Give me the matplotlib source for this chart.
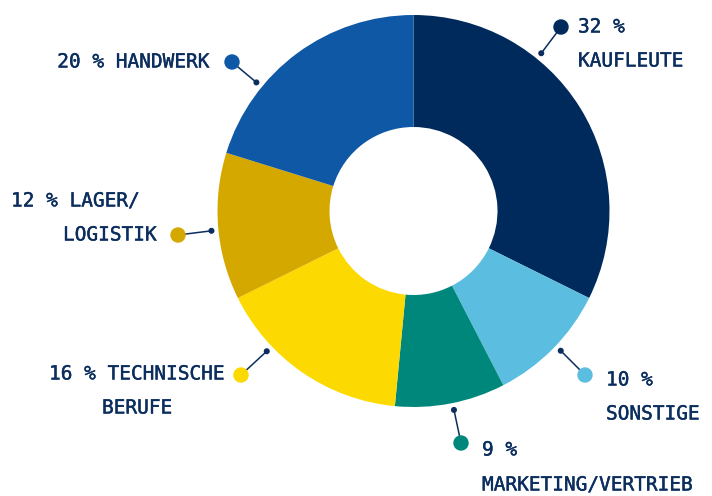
#!/usr/bin/env python3

import numpy as np
import matplotlib.pyplot as plt
import matplotlib.patheffects as pe
from matplotlib.patches import Circle

# data
labels = ["KAUFLEUTE", "SONSTIGE", "MARKETING/VERTRIEB",
          "TECHNISCHE BERUFE", "LAGER/LOGISTIK", "HANDWERK"]
values = [32, 10, 9, 16, 12, 20]
colors = ["#002a5c", "#5bbee1", "#00877b", "#fcd900", "#d5a800", "#0e58a5"]

TEXT = "#0b2e5e"
W, H = 712, 496
CX, CY, R = 413.5, H - 211, 196
HOLE = 84

# label layout (pixel coords, y from top): anchor angle (deg clockwise from top),
# big dot position, text lines [(text, x, y, ha)]
layout = [
    (39, (561, 27), [("32 %", 578, 27, "left"), ("KAUFLEUTE", 578, 61, "left")]),
    (133.5, (585, 375), [("10 %", 606, 380, "left"), ("SONSTIGE", 606, 414, "left")]),
    (168.5, (461, 443), [("9 %", 482, 450, "left"), ("MARKETING/VERTRIEB", 482, 485, "left")]),
    (226.3, (241, 375), [("16 % TECHNISCHE", 49, 374, "left"), ("BERUFE", 102, 408, "left")]),
    (264.4, (178, 235), [("12 % LAGER/", 11, 201, "left"), ("LOGISTIK", 63, 235, "left")]),
    (309.3, (232, 62), [("20 % HANDWERK", 210, 62, "right")]),
]


def main():
    fig = plt.figure(figsize=(W / 100, H / 100), dpi=100)
    ax = fig.add_axes([0, 0, 1, 1])

    ax.pie(values, colors=colors, startangle=90, counterclock=False,
           center=(CX, CY), radius=R,
           wedgeprops=dict(width=R - HOLE, linewidth=0))

    heavy = [pe.withStroke(linewidth=0.3, foreground=TEXT)]
    for (ang, dot, lines), col in zip(layout, colors):
        a = np.deg2rad(ang)
        px = CX + (R + 7) * np.sin(a)
        py = CY + (R + 7) * np.cos(a)
        dx, dy = dot[0], H - dot[1]
        ax.plot([px, dx], [py, dy], color=TEXT, lw=1.1, zorder=3)
        ax.add_patch(Circle((px, py), 2.3, color=TEXT, zorder=4))
        ax.add_patch(Circle((dx, dy), 7, color=col, zorder=4))
        for txt, tx, ty, ha in lines:
            ax.text(tx, H - ty, txt, ha=ha, va="center", color=TEXT,
                    fontsize=14, family="DejaVu Sans Mono", path_effects=heavy)

    ax.set_xlim(0, W)
    ax.set_ylim(0, H)
    ax.set_aspect("equal")
    ax.axis("off")

    fig.savefig("out.png", dpi=100)


if __name__ == "__main__":
    main()
